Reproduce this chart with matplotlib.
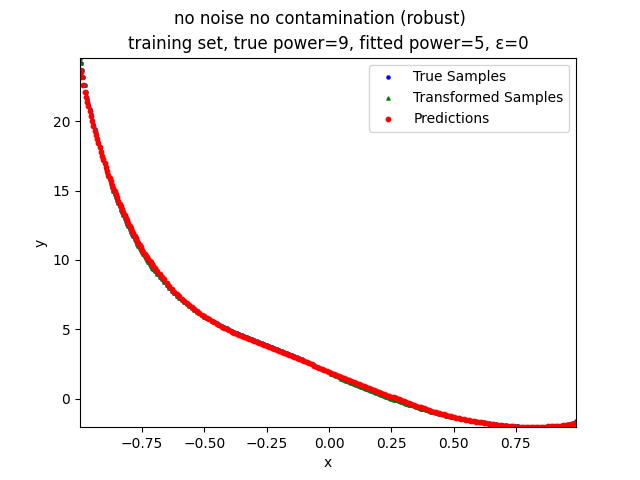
import numpy as np
import matplotlib
matplotlib.use('Agg')
import matplotlib.pyplot as plt

# sample positions (shared by samples and predictions)
x_samples = [
    -0.999,
    -0.995, -0.99, -0.985, -0.98, -0.975, -0.97, -0.965, -0.96, -0.955, -0.95,
    -0.945, -0.94, -0.935, -0.93, -0.925, -0.92, -0.915, -0.91, -0.905, -0.90,
    -0.895, -0.89, -0.885, -0.88, -0.875, -0.87, -0.865, -0.86, -0.855, -0.85,
    -0.845, -0.84, -0.835, -0.83, -0.825, -0.82, -0.815, -0.81, -0.805, -0.80,
    -0.795, -0.79, -0.785, -0.78, -0.775, -0.77, -0.765, -0.76, -0.755, -0.75,
    -0.745, -0.74, -0.735, -0.73, -0.725, -0.72, -0.715, -0.71, -0.705, -0.70,
    -0.69, -0.68, -0.67, -0.66, -0.65, -0.64, -0.63, -0.62, -0.61, -0.60,
    -0.59, -0.58, -0.57, -0.56, -0.55, -0.54, -0.53, -0.52, -0.51, -0.50,
    -0.49, -0.48, -0.47, -0.46, -0.45, -0.44, -0.43, -0.42, -0.41, -0.40,
    -0.39, -0.38, -0.37, -0.36, -0.35, -0.34, -0.33, -0.32, -0.31, -0.30,
    -0.29, -0.28, -0.27, -0.26, -0.25, -0.24, -0.23, -0.22, -0.21, -0.20,
    -0.19, -0.18, -0.17, -0.16, -0.15, -0.14, -0.13, -0.12, -0.11, -0.10,
    -0.09, -0.08, -0.07, -0.06, -0.05, -0.04, -0.03, -0.02, -0.01, 0.00,
    0.01, 0.02, 0.03, 0.04, 0.05, 0.06, 0.07, 0.08, 0.09, 0.10,
    0.11, 0.12, 0.13, 0.14, 0.15, 0.16, 0.17, 0.18, 0.19, 0.20,
    0.21, 0.22, 0.23, 0.24, 0.25, 0.26, 0.27, 0.28, 0.29, 0.30,
    0.31, 0.32, 0.33, 0.34, 0.35, 0.36, 0.37, 0.38, 0.39, 0.40,
    0.41, 0.42, 0.43, 0.44, 0.45, 0.46, 0.47, 0.48, 0.49, 0.50,
    0.51, 0.52, 0.53, 0.54, 0.55, 0.56, 0.57, 0.58, 0.59, 0.60,
    0.61, 0.62, 0.63, 0.64, 0.65, 0.66, 0.67, 0.68, 0.69, 0.70,
    0.71, 0.72, 0.73, 0.74, 0.75, 0.76, 0.77, 0.78, 0.79, 0.80,
    0.81, 0.82, 0.83, 0.84, 0.85, 0.86, 0.87, 0.88, 0.89, 0.90,
    0.91, 0.92, 0.93, 0.94, 0.95, 0.96, 0.97, 0.98, 0.991,
]

y_true = [
    24.57,
    24.2, 23.7, 23.15, 22.6, 22.1, 21.6, 21.25, 20.9, 20.5, 20.1,
    19.78, 19.45, 19.12, 18.8, 18.47, 18.15, 17.82, 17.5, 17.22, 16.95,
    16.65, 16.35, 16.07, 15.8, 15.52, 15.25, 15.0, 14.75, 14.52, 14.3,
    14.07, 13.85, 13.63, 13.42, 13.21, 13.0, 12.81, 12.62, 12.42, 12.22,
    12.04, 11.87, 11.7, 11.52, 11.35, 11.18, 11.01, 10.85, 10.7, 10.55,
    10.4, 10.26, 10.11, 9.97, 9.83, 9.7, 9.57, 9.45, 9.32, 9.2,
    9.0, 8.8, 8.6, 8.42, 8.2, 7.97, 7.78, 7.6, 7.43, 7.26,
    7.1, 6.95, 6.81, 6.67, 6.54, 6.41, 6.28, 6.15, 6.04, 5.93,
    5.83, 5.73, 5.63, 5.53, 5.43, 5.34, 5.25, 5.16, 5.07, 4.99,
    4.91, 4.83, 4.75, 4.67, 4.6, 4.52, 4.45, 4.38, 4.31, 4.24,
    4.17, 4.1, 4.03, 3.96, 3.89, 3.82, 3.74, 3.67, 3.59, 3.52,
    3.44, 3.37, 3.29, 3.22, 3.14, 3.07, 2.99, 2.92, 2.84, 2.76,
    2.67, 2.58, 2.5, 2.42, 2.33, 2.25, 2.16, 2.08, 1.99, 1.9,
    1.81, 1.72, 1.63, 1.55, 1.46, 1.38, 1.29, 1.21, 1.13, 1.05,
    0.97, 0.9, 0.82, 0.75, 0.68, 0.61, 0.54, 0.47, 0.4, 0.34,
    0.27, 0.21, 0.14, 0.08, 0.01, -0.05, -0.11, -0.17, -0.23, -0.29,
    -0.35, -0.41, -0.47, -0.53, -0.58, -0.64, -0.7, -0.75, -0.81, -0.86,
    -0.91, -0.96, -1.01, -1.06, -1.11, -1.15, -1.2, -1.24, -1.28, -1.32,
    -1.36, -1.4, -1.44, -1.47, -1.51, -1.54, -1.57, -1.6, -1.62, -1.64,
    -1.67, -1.7, -1.72, -1.75, -1.78, -1.8, -1.83, -1.85, -1.87, -1.89,
    -1.91, -1.92, -1.94, -1.95, -1.97, -1.98, -1.99, -2.0, -2.01, -2.02,
    -2.02, -2.03, -2.03, -2.04, -2.04, -2.04, -2.03, -2.03, -2.02, -2.01,
    -1.99, -1.97, -1.95, -1.92, -1.88, -1.84, -1.8, -1.74, -1.62,
]

# no noise, no contamination -> transformed samples equal the true ones
y_transformed = list(y_true)

y_pred = [
    23.7,
    23.5, 23.2, 22.6, 22.1, 21.7, 21.35, 21.05, 20.75, 20.35, 20.0,
    19.65, 19.3, 19.0, 18.7, 18.4, 18.1, 17.8, 17.5, 17.25, 17.0,
    16.7, 16.4, 16.15, 15.9, 15.65, 15.4, 15.17, 14.95, 14.72, 14.5,
    14.27, 14.05, 13.85, 13.65, 13.45, 13.25, 13.05, 12.85, 12.65, 12.45,
    12.27, 12.1, 11.92, 11.75, 11.57, 11.4, 11.22, 11.05, 10.9, 10.75,
    10.6, 10.45, 10.32, 10.2, 10.07, 9.95, 9.82, 9.7, 9.57, 9.45,
    9.22, 9.0, 8.8, 8.6, 8.35, 8.1, 7.9, 7.72, 7.54, 7.37,
    7.2, 7.04, 6.89, 6.74, 6.6, 6.46, 6.32, 6.18, 6.06, 5.94,
    5.83, 5.72, 5.61, 5.5, 5.4, 5.3, 5.21, 5.12, 5.03, 4.94,
    4.85, 4.77, 4.69, 4.61, 4.53, 4.46, 4.39, 4.32, 4.24, 4.17,
    4.1, 4.03, 3.96, 3.9, 3.83, 3.76, 3.68, 3.61, 3.53, 3.46,
    3.39, 3.32, 3.25, 3.18, 3.1, 3.03, 2.95, 2.88, 2.8, 2.72,
    2.64, 2.56, 2.48, 2.4, 2.32, 2.25, 2.17, 2.1, 2.02, 1.95,
    1.87, 1.8, 1.72, 1.65, 1.57, 1.5, 1.42, 1.34, 1.26, 1.19,
    1.12, 1.05, 0.98, 0.91, 0.84, 0.78, 0.71, 0.64, 0.57, 0.51,
    0.44, 0.38, 0.31, 0.24, 0.17, 0.1, 0.03, -0.03, -0.1, -0.16,
    -0.23, -0.3, -0.36, -0.43, -0.49, -0.56, -0.62, -0.68, -0.74, -0.8,
    -0.86, -0.92, -0.97, -1.02, -1.07, -1.12, -1.17, -1.21, -1.26, -1.3,
    -1.35, -1.39, -1.43, -1.46, -1.5, -1.53, -1.57, -1.6, -1.64, -1.67,
    -1.7, -1.73, -1.76, -1.78, -1.81, -1.84, -1.86, -1.88, -1.9, -1.92,
    -1.94, -1.95, -1.97, -1.98, -1.99, -2.0, -2.01, -2.01, -2.02, -2.02,
    -2.02, -2.02, -2.02, -2.01, -2.01, -2.0, -1.99, -1.98, -1.97, -1.96,
    -1.95, -1.93, -1.92, -1.9, -1.88, -1.86, -1.83, -1.8, -1.72,
]

assert len(x_samples) == len(y_true) == len(y_pred)
x = np.array(x_samples)

plt.figure(figsize=(6.4, 4.8), dpi=100)
plt.scatter(x, y_true, s=5, c='b', label='True Samples')
plt.scatter(x, y_transformed, s=5, c='g', marker='^', label='Transformed Samples')
plt.scatter(x, y_pred, s=10, c='r', label='Predictions')
plt.xlim(min(x_samples), max(x_samples))
plt.ylim(min(y_true), max(y_true))
plt.xlabel('x')
plt.ylabel('y')
plt.suptitle('no noise no contamination (robust)')
plt.title('training set, true power=9, fitted power=5, ε=0')
plt.legend(loc='upper right')
plt.savefig('out.png')
